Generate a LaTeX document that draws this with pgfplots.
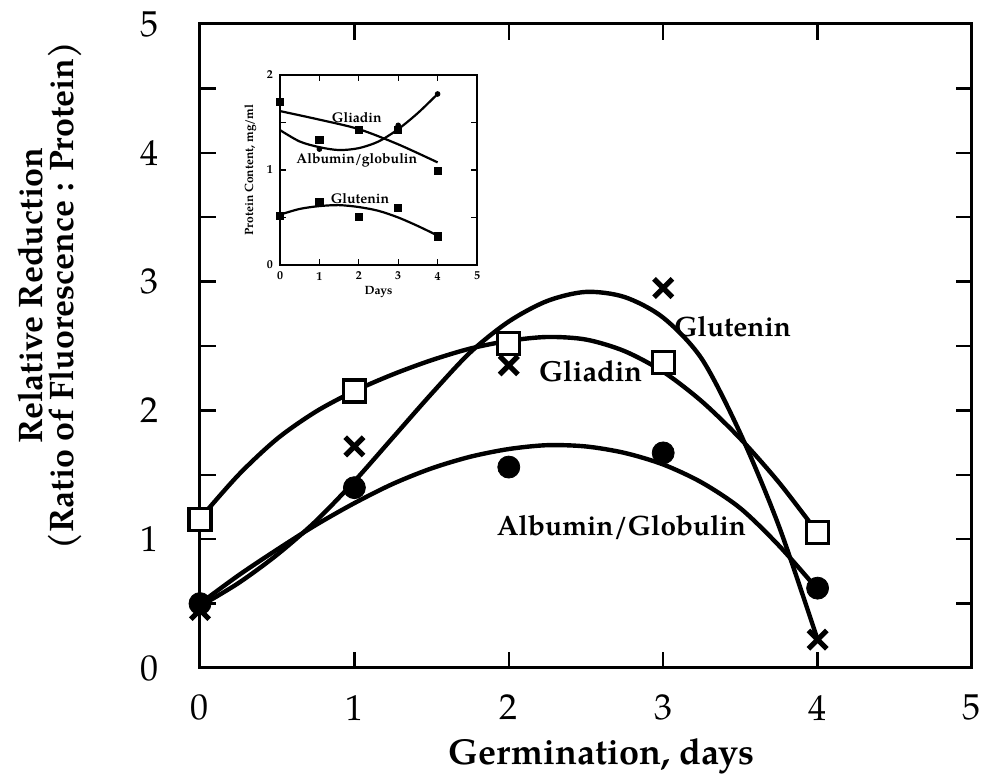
\documentclass[border=0pt]{standalone}
\usepackage{fontspec}
\setmainfont{TeX Gyre Pagella}
\usepackage{pgfplots}
\pgfplotsset{compat=1.18}
\begin{document}
\begin{tikzpicture}
\useasboundingbox (-100pt,-54pt) rectangle (391pt,334pt);
\begin{axis}[
  at={(0,0)}, anchor=south west,
  scale only axis, width=386pt, height=322pt,
  xmin=0, xmax=5, ymin=0, ymax=5,
  xtick={0,1,2,3,4,5}, ytick={0,1,2,3,4,5},
  minor ytick={0.5,1.5,2.5,3.5,4.5},
  tick align=inside, major tick length=8pt, minor tick length=8pt,
  every tick/.style={black, line width=1.2pt},
  axis line style={line width=1.5pt},
  /pgf/number format/assume math mode=true,
  tick label style={font=\fontsize{18}{18}\selectfont},
  xticklabel shift=10pt, yticklabel shift=17pt,
  clip=false,
]
% Gliadin curve
\addplot[line width=2.2pt, smooth] coordinates {
 (0,1.16) (0.25,1.50) (0.5,1.78) (0.75,1.99) (1,2.15) (1.25,2.28) (1.5,2.39) (1.75,2.48) (2,2.54) (2.25,2.57) (2.5,2.55) (2.75,2.46) (3,2.30) (3.25,2.07) (3.5,1.78) (3.75,1.44) (4,1.05)};
% Glutenin curve
\addplot[line width=2.2pt, smooth] coordinates {
 (0,0.48) (0.25,0.66) (0.5,0.88) (0.75,1.14) (1,1.45) (1.25,1.79) (1.5,2.13) (1.75,2.45) (2,2.69) (2.25,2.85) (2.5,2.92) (2.75,2.88) (3,2.72) (3.25,2.40) (3.5,1.82) (3.75,1.10) (4,0.22)};
% Albumin/Globulin curve
\addplot[line width=2.2pt, smooth] coordinates {
 (0,0.50) (0.25,0.72) (0.5,0.92) (0.75,1.11) (1,1.28) (1.25,1.43) (1.5,1.55) (1.75,1.64) (2,1.70) (2.25,1.73) (2.5,1.72) (2.75,1.67) (3,1.58) (3.25,1.44) (3.5,1.24) (3.75,0.95) (4,0.61)};
% markers
\addplot[only marks, mark=square*, mark size=5.5pt, mark options={fill=white, draw=black, line width=1.6pt}] coordinates {
 (0,1.15) (1,2.15) (2,2.52) (3,2.37) (4,1.05)};
\addplot[only marks, mark=x, mark size=6.5pt, mark options={line width=2.6pt, black}] coordinates {
 (0,0.45) (1,1.72) (2,2.35) (3,2.95) (4,0.22)};
\addplot[only marks, mark=*, mark size=5.5pt, mark options={fill=black, draw=black}] coordinates {
 (0,0.50) (1,1.40) (2,1.56) (3,1.67) (4,0.62)};
\node[font=\bfseries\fontsize{14}{14}\selectfont] at (axis cs:3.45,2.65) {Glutenin};
\node[font=\bfseries\fontsize{14.5}{14.5}\selectfont] at (axis cs:2.53,2.30) {Gliadin};
\node[font=\bfseries\fontsize{14}{14}\selectfont] at (axis cs:2.73,1.09) {Albumin/Globulin};
\node[font=\bfseries\fontsize{18}{18}\selectfont, anchor=base] at (axis description cs:0.52,-0.15) {Germination, days};
\node[font=\bfseries\fontsize{17}{15.5}\selectfont, rotate=90, align=center] at (axis description cs:-0.194,0.578) {Relative Reduction\\(Ratio of Fluorescence : Protein)};
\end{axis}
% inset
\begin{axis}[
  at={(40pt,201.5pt)}, anchor=south west,
  scale only axis, width=98.5pt, height=95pt,
  xmin=0, xmax=5, ymin=0, ymax=2,
  xtick={0,1,2,3,4,5}, ytick={0,1,2},
  minor ytick={0.5,1.5},
  tick align=inside, major tick length=3pt, minor tick length=3pt,
  every tick/.style={black, line width=0.6pt},
  axis line style={line width=1pt},
  /pgf/number format/assume math mode=true,
  tick label style={font=\bfseries\fontsize{6}{6}\selectfont},
  xticklabel shift=0pt, yticklabel shift=0pt,
  clip=false,
]
\addplot[line width=1.1pt, smooth] coordinates {
 (0,1.62) (1,1.53) (2,1.43) (3,1.27) (4,1.08)};
\addplot[line width=1.1pt, smooth] coordinates {
 (0,1.42) (0.5,1.30) (1,1.24) (1.5,1.21) (2,1.23) (2.5,1.30) (3,1.43) (3.5,1.60) (4,1.80)};
\addplot[line width=1.1pt, smooth] coordinates {
 (0,0.53) (0.5,0.59) (1,0.62) (1.5,0.63) (2,0.61) (2.5,0.57) (3,0.50) (3.5,0.41) (4,0.31)};
\addplot[only marks, mark=square*, mark size=1.8pt, mark options={fill=black}] coordinates {
 (0,1.72) (1,1.32) (2,1.42) (3,1.42) (4,0.99)};
\addplot[only marks, mark=*, mark size=1.2pt, mark options={fill=black}] coordinates {
 (1,1.22) (3,1.47) (4,1.80)};
\addplot[only marks, mark=square*, mark size=1.8pt, mark options={fill=black}] coordinates {
 (0,0.52) (1,0.66) (2,0.51) (3,0.60) (4,0.30)};
\node[font=\bfseries\fontsize{7}{7}\selectfont] at (axis cs:1.95,1.55) {Gliadin};
\node[font=\bfseries\fontsize{7}{7}\selectfont] at (axis cs:1.95,1.10) {Albumin/globulin};
\node[font=\bfseries\fontsize{7}{7}\selectfont] at (axis cs:2.03,0.70) {Glutenin};
\node[font=\bfseries\fontsize{6}{6}\selectfont] at (axis description cs:0.5,-0.14) {Days};
\node[font=\bfseries\fontsize{6}{6}\selectfont, rotate=90] at (axis description cs:-0.15,0.5) {Protein Content, mg/ml};
\end{axis}
\end{tikzpicture}
\end{document}
